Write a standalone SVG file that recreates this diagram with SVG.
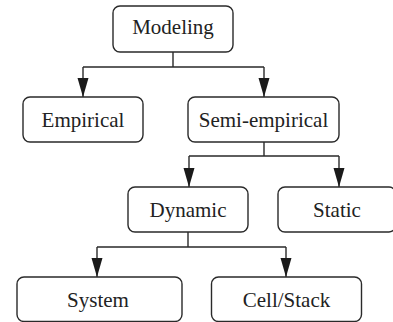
<svg xmlns="http://www.w3.org/2000/svg" width="393" height="322" viewBox="0 0 393 322">
  <defs>
    <!-- solid arrowhead, tip at the end of the line -->
    <marker id="arrow" markerUnits="userSpaceOnUse" markerWidth="19" markerHeight="12" viewBox="0 0 19 12" refX="19" refY="6" orient="auto">
      <path d="M0,0.5 L19,6 L0,11.5 Z" fill="#1a1a1a"/>
    </marker>
  </defs>
  <style>
    .box { fill: #ffffff; stroke: #2a2a2a; stroke-width: 1.4; }
    .lbl { font-family: 'Liberation Serif', Tinos, 'Times New Roman', 'Noto Serif', 'DejaVu Serif', serif; font-size: 21px; fill: #222222; text-anchor: middle; }
    .wire { fill: none; stroke: #2a2a2a; stroke-width: 1.4; }
    .arr { fill: none; stroke: #2a2a2a; stroke-width: 1.4; marker-end: url(#arrow); }
  </style>
  <rect width="393" height="322" fill="#ffffff"/>

  <g id="connectors">
    <!-- Modeling branches -->
    <path class="wire" d="M173,52 V67 M83,67 H264"/>
    <path class="arr" d="M83,67 V97"/>
    <path class="arr" d="M264,67 V97"/>
    <!-- Semi-empirical branches -->
    <path class="wire" d="M264,142 V156 M189,156 H339"/>
    <path class="arr" d="M189,156 V187"/>
    <path class="arr" d="M339,156 V187"/>
    <!-- Dynamic branches -->
    <path class="wire" d="M188,232 V247 M97,247 H286"/>
    <path class="arr" d="M97,247 V277"/>
    <path class="arr" d="M286,247 V277"/>
  </g>

  <g id="modeling">
    <rect class="box" x="113" y="6" width="120" height="46" rx="7"/>
    <text class="lbl" x="173" y="34">Modeling</text>
  </g>
  <g id="empirical">
    <rect class="box" x="23" y="97" width="120" height="45" rx="7"/>
    <text class="lbl" x="83" y="127">Empirical</text>
  </g>
  <g id="semi-empirical">
    <rect class="box" x="188" y="97" width="151" height="45" rx="7"/>
    <text class="lbl" x="263.5" y="127">Semi-empirical</text>
  </g>
  <g id="dynamic">
    <rect class="box" x="128" y="187" width="120" height="45" rx="7"/>
    <text class="lbl" x="188" y="216.5">Dynamic</text>
  </g>
  <g id="static">
    <rect class="box" x="278" y="187" width="118" height="45" rx="7"/>
    <text class="lbl" x="337" y="216.5">Static</text>
  </g>
  <g id="system">
    <rect class="box" x="17" y="277" width="165" height="44.5" rx="7"/>
    <text class="lbl" x="98" y="306.5">System</text>
  </g>
  <g id="cell-stack">
    <rect class="box" x="211.5" y="277" width="150" height="44.5" rx="7"/>
    <text class="lbl" x="286.5" y="306.5">Cell/Stack</text>
  </g>
</svg>
